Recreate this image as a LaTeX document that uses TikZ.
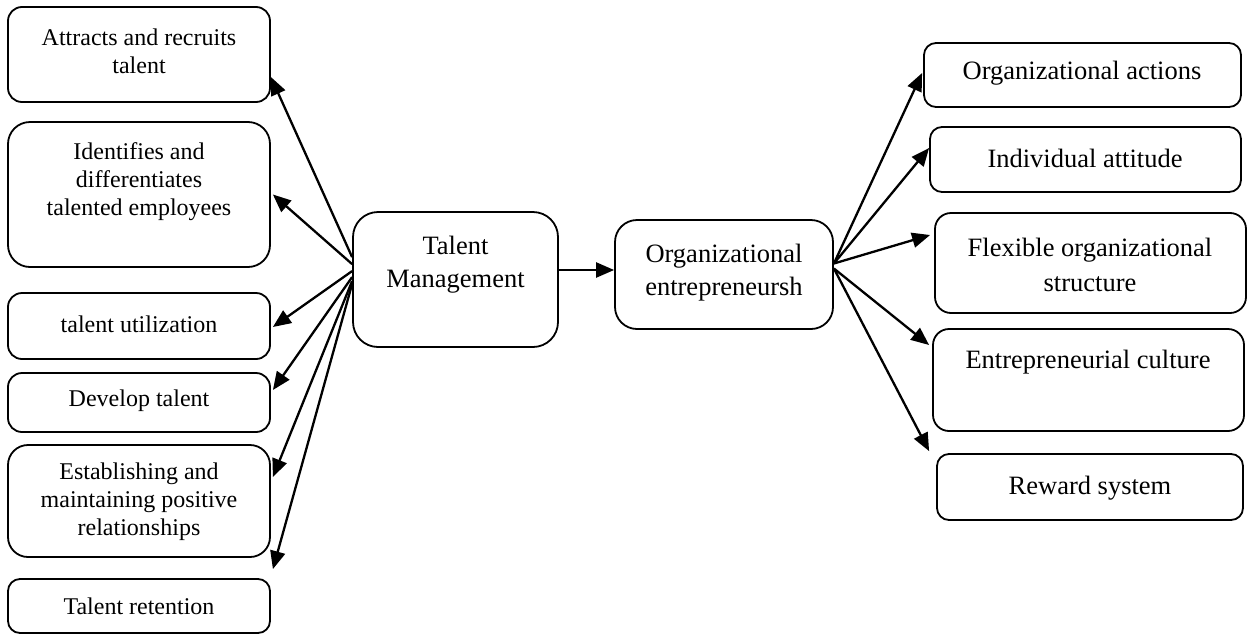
\documentclass[tikz,border=0pt]{standalone}
\usepackage{fontspec}
\setmainfont{Liberation Serif}
\usetikzlibrary{arrows.meta,calc}
\begin{document}
\begin{tikzpicture}[x=1pt,y=-1pt,
  box/.style={draw=black,line width=1.8pt,rounded corners=#1,inner sep=0pt},
  box/.default=14pt,
  txt/.style={align=center,inner sep=0pt,font=\fontsize{24}{28}\selectfont},
  bigtxt/.style={align=center,inner sep=0pt,font=\fontsize{26.5}{33}\selectfont},
  arr/.style={line width=2.3pt,-{Triangle[length=18pt,width=15pt]}}]
\useasboundingbox (0,0) rectangle (1247,635);
% boxes: name, corners
\newcommand{\bx}[6]{\node[box=#6,minimum width=#3pt-#2pt,minimum height=#5pt-#4pt] (#1) at ({(#2+#3)/2},{(#4+#5)/2}) {};}
\bx{att}{8}{270}{7}{102}{14pt}
\bx{idf}{8}{270}{122}{267}{22pt}
\bx{utl}{8}{270}{293}{359}{14pt}
\bx{dev}{8}{270}{373}{432}{14pt}
\bx{est}{8}{270}{445}{557}{20pt}
\bx{ret}{8}{270}{579}{633}{12pt}
\bx{tm}{353}{558}{212}{347}{25pt}
\bx{oe}{615}{833}{220}{329}{22pt}
\bx{oa}{924}{1241}{43}{107}{12pt}
\bx{ia}{930}{1241}{127}{192}{12pt}
\bx{fl}{935}{1246}{213}{313}{16pt}
\bx{ec}{933}{1244}{329}{431}{16pt}
\bx{rw}{937}{1243}{454}{520}{12pt}
% texts
\node[txt] (tatt) at (139,51) {Attracts and recruits\\talent};
\node[txt] (tidf) at (139,182) {Identifies and\\differentiates\\talented employees};
\node[txt] (tutl) at (139,324) {talent utilization};
\node[txt] (tdev) at (139,401) {Develop talent};
\node[txt] (test) at (139,502) {Establishing and\\maintaining positive\\relationships};
\node[txt] (tret) at (139,606) {Talent retention};
\node[bigtxt] (ttm) at (455.5,265) {Talent\\Management};
\node[bigtxt] (toe) at (724,273) {Organizational\\entrepreneursh};
\node[bigtxt] (toa) at (1082,73) {Organizational actions};
\node[bigtxt] (tia) at (1085,158) {Individual attitude};
\node[bigtxt,font=\fontsize{26.5}{35}\selectfont] (tfl) at (1090,265) {Flexible organizational\\structure};
\node[bigtxt] (tec) at (1088,362) {Entrepreneurial culture};
\node[bigtxt] (trw) at (1090,488) {Reward system};
% left arrows
\draw[arr] ([yshift=-46pt]tm.north west) -- ([yshift=-22.5pt]att.east);
\draw[arr] ([yshift=-53pt]tm.north west) -- ([xshift=2pt]idf.east);
\draw[arr] ([yshift=-60pt]tm.north west) -- ([xshift=2pt,yshift=-1pt]utl.east);
\draw[arr] ([yshift=-66pt]tm.north west) -- ([xshift=2pt,yshift=12.5pt]dev.east);
\draw[arr] ([yshift=-70pt]tm.north west) -- ([xshift=2pt,yshift=24pt]est.east);
\draw[arr] ([yshift=-73pt]tm.north west) -- ([xshift=2pt,yshift=9pt]ret.north east);
% middle
\draw[arr] ([yshift=9.5pt]tm.east) -- ([yshift=9.5pt]oe.west |- tm.east);
% right arrows
\draw[arr] ([yshift=11pt]oe.east) -- ([xshift=-1pt,yshift=2pt]oa.west);
\draw[arr] ([yshift=11pt]oe.east) -- ([yshift=11.5pt]ia.west);
\draw[arr] ([yshift=11pt]oe.east) -- ([xshift=-4pt,yshift=28pt]fl.west);
\draw[arr] ([yshift=6pt]oe.east) -- ([xshift=-3pt,yshift=35pt]ec.west);
\draw[arr] ([yshift=6pt]oe.east) -- ([xshift=-7pt,yshift=2pt]rw.north west);
\end{tikzpicture}
\end{document}
